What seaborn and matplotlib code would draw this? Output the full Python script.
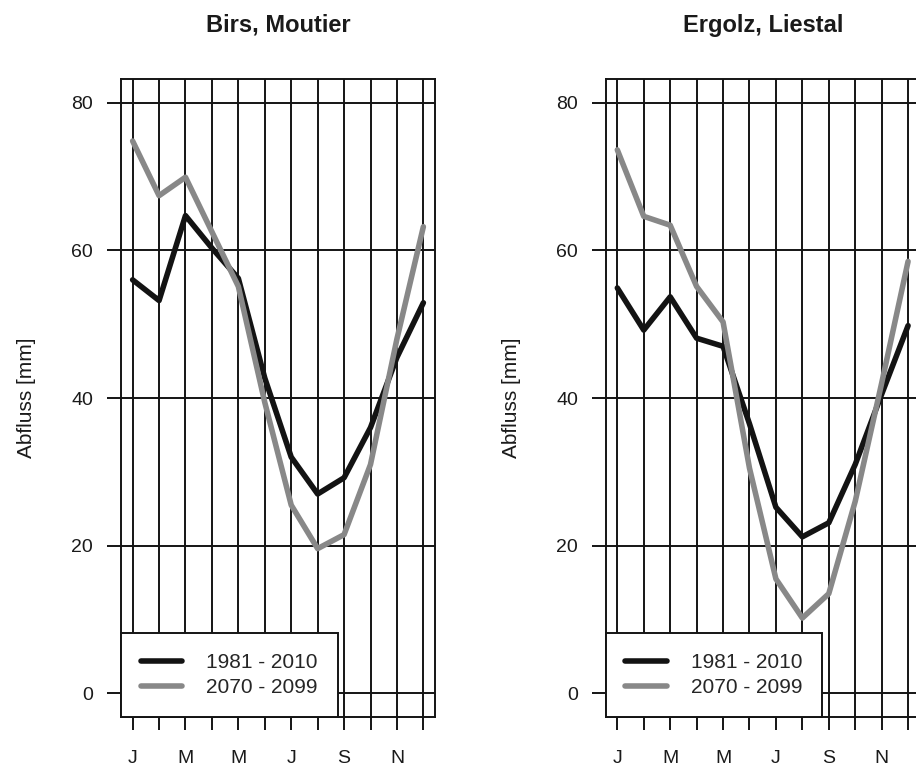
import matplotlib
matplotlib.use("Agg")
import matplotlib.pyplot as plt
from matplotlib.lines import Line2D
import pandas as pd
import seaborn as sns

# Monthly mean runoff (mm) for two catchments and two periods
months = list(range(1, 13))
month_labels = ["J", "", "M", "", "M", "", "J", "", "S", "", "N", ""]
periods = ["1981 - 2010", "2070 - 2099"]
y_ticks = [0, 20, 40, 60, 80]

birs_1981_2010 = [56.0, 53.2, 64.7, 60.3, 56.2, 42.7, 32.0, 27.0, 29.2, 36.0, 45.5, 52.9]
birs_2070_2099 = [74.8, 67.4, 69.9, 62.5, 55.1, 39.4, 25.5, 19.6, 21.5, 31.0, 48.0, 63.2]
ergolz_1981_2010 = [54.9, 49.2, 53.7, 48.1, 47.0, 36.5, 25.2, 21.2, 23.1, 31.0, 40.5, 49.8]
ergolz_2070_2099 = [73.6, 64.6, 63.4, 55.1, 50.3, 30.5, 15.5, 10.2, 13.5, 26.0, 42.0, 58.5]

panels = [
    ("Birs, Moutier", birs_1981_2010, birs_2070_2099),
    ("Ergolz, Liestal", ergolz_1981_2010, ergolz_2070_2099),
]

sns.set_style("white")
plt.rcParams["font.family"] = ["Liberation Sans", "DejaVu Sans"]

ink = "#141414"
palette = {periods[0]: "#131313", periods[1]: "#888888"}
lw_data = 4.0
lw_grid = 1.4

fig = plt.figure(figsize=(9.16, 7.69), dpi=100)
fig.patch.set_facecolor("white")

ax_lefts = [121 / 916, 605.7 / 916]
ax_w = 314 / 916
ax_b = (769 - 717) / 769
ax_h = 638 / 769

for (title, recent, future), left in zip(panels, ax_lefts):
    ax = fig.add_axes([left, ax_b, ax_w, ax_h])
    df = pd.DataFrame({
        "Monat": months * 2,
        "Abfluss": recent + future,
        "Periode": [periods[0]] * 12 + [periods[1]] * 12,
    })
    sns.lineplot(data=df, x="Monat", y="Abfluss", hue="Periode",
                 palette=palette, linewidth=lw_data, ax=ax, legend=False,
                 zorder=3)

    ax.set_xlim(0.56, 12.44)
    ax.set_ylim(-3.2, 83.2)
    ax.set_xticks(months)
    ax.set_xticklabels(month_labels)
    ax.set_yticks(y_ticks)
    ax.grid(True, color=ink, linewidth=lw_grid)
    ax.tick_params(axis="both", direction="out", color=ink, width=lw_grid,
                   labelsize=14, labelcolor="#1a1a1a",
                   bottom=True, left=True)
    ax.tick_params(axis="x", length=9.5, pad=14)
    ax.tick_params(axis="y", length=10, pad=10)
    for sp in ax.spines.values():
        sp.set_color(ink)
        sp.set_linewidth(lw_grid)

    ax.set_xlabel("")
    ax.set_ylabel("Abfluss [mm]", fontsize=15, color="#1a1a1a")
    ax.yaxis.set_label_coords(-0.27, 0.5)
    ax.set_title(title, fontsize=17, fontweight="bold", color="#1a1a1a", pad=34)

    handles = [Line2D([], [], color=palette[p], linewidth=lw_data) for p in periods]
    leg = ax.legend(handles, periods, loc="lower left", bbox_to_anchor=(0, 0),
                    fontsize=15, frameon=True, fancybox=False, framealpha=1,
                    edgecolor=ink, handlelength=2.0, handletextpad=1.15,
                    borderpad=0.95, labelspacing=0.3, borderaxespad=0)
    leg.get_frame().set_linewidth(lw_grid)
    leg.set_zorder(5)

fig.savefig("out.png", dpi=100, facecolor="white")
